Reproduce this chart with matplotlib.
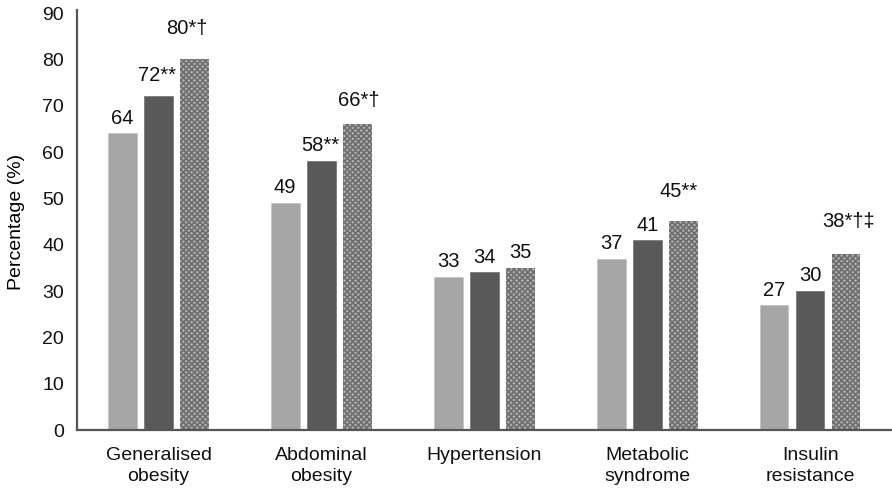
import matplotlib
matplotlib.use("Agg")
import matplotlib.pyplot as plt
import numpy as np

plt.rcParams['font.family'] = ['Liberation Sans', 'DejaVu Sans']
plt.rcParams['hatch.linewidth'] = 1.2

categories = ["Generalised\nobesity", "Abdominal\nobesity", "Hypertension", "Metabolic\nsyndrome", "Insulin\nresistance"]
series1 = [64, 49, 33, 37, 27]
series2 = [72, 58, 34, 41, 30]
series3 = [80, 66, 35, 45, 38]
labels1 = ["64", "49", "33", "37", "27"]
labels2 = ["72**", "58**", "34", "41", "30"]
labels3 = ["80*\u2020", "66*\u2020", "35", "45**", "38*\u2020\u2021"]
# label placement (layout): (dx, dy) in pixels above bar top
off1 = [(0, 9.5), (-1, 10), (0, 10), (0, 9.5), (0, 8.5)]
off2 = [(-1.5, 15), (-1, 10), (0, 9), (0, 9), (0, 10)]
off3 = [(-8, 25), (1, 18), (0, 10), (-4.5, 24.5), (2, 27)]

fig = plt.figure(figsize=(8.92, 4.9), dpi=100)
ax = fig.add_axes([77.1 / 892, 60 / 490, 814.5 / 892, 417 / 490])

x = np.arange(len(categories))
w = 0.175
d = 0.221
ax.bar(x - d, series1, w, color='#a6a6a6', edgecolor='#c4c4c4', linewidth=0.6)
ax.bar(x, series2, w, color='#595959', edgecolor='#7a7a7a', linewidth=0.6)
ax.bar(x + d, series3, w, color='#b0b0b0', edgecolor='#6e6e6e', hatch='xxxxxx', linewidth=0)

px2pt = 0.72
for i in range(len(categories)):
    for xs, ys, labs, offs in ((x - d, series1, labels1, off1),
                               (x, series2, labels2, off2),
                               (x + d, series3, labels3, off3)):
        ax.annotate(labs[i], (xs[i], ys[i]),
                    xytext=(offs[i][0] * px2pt, offs[i][1] * px2pt), textcoords='offset points',
                    ha='center', va='baseline', fontsize=14.5, color='#111111')

ax.set_xlim(-0.5, 4.5)
ax.set_ylim(0, 90)
ax.set_yticks(range(0, 91, 10))
ax.set_xticks(x)
ax.set_xticklabels(categories, fontsize=14, linespacing=1.35)
ax.tick_params(axis='both', length=0, labelsize=14, colors='#111111')
ax.tick_params(axis='x', pad=12)
ax.tick_params(axis='y', pad=9.5)
ax.set_ylabel("Percentage (%)", fontsize=14, labelpad=12)
for s in ['top', 'right']:
    ax.spines[s].set_visible(False)
for s in ['left', 'bottom']:
    ax.spines[s].set_color('#555555')
    ax.spines[s].set_linewidth(1.6)
ax.spines['left'].set_bounds(0, 90.6)

fig.savefig("out.png", dpi=100)
